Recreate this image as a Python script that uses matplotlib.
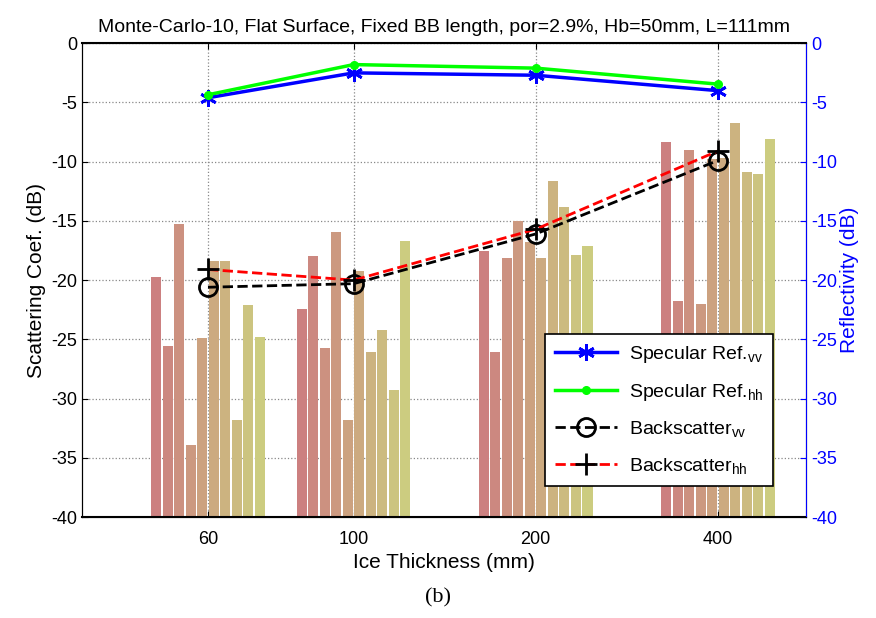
import numpy as np
import matplotlib
matplotlib.use('Agg')
import matplotlib.pyplot as plt
from matplotlib.lines import Line2D

plt.rcParams['font.family'] = ['Liberation Sans', 'DejaVu Sans']
plt.rcParams['mathtext.fontset'] = 'custom'
plt.rcParams['mathtext.rm'] = 'Liberation Sans'
plt.rcParams['mathtext.it'] = 'Liberation Sans'
plt.rcParams['axes.unicode_minus'] = False

# ── DATA
thickness = ['60', '100', '200', '400']
xpos = [1.0, 1.8, 2.8, 3.8]

# 10 Monte-Carlo realisations per thickness (dB)
mc_bars = [
    [-19.7, -25.6, -15.3, -33.9, -24.9, -18.4, -18.4, -31.8, -22.1, -24.8],
    [-22.4, -18.0, -25.7, -15.9, -31.8, -19.2, -26.1, -24.2, -29.3, -16.7],
    [-17.5, -26.1, -18.1, -15.0, -16.8, -18.1, -11.6, -13.8, -17.9, -17.1],
    [-8.3, -21.8, -9.0, -22.0, -9.8, -9.7, -6.7, -10.9, -11.0, -8.1],
]

spec_vv = [-4.6, -2.5, -2.7, -4.0]
spec_hh = [-4.35, -1.8, -2.1, -3.45]
back_vv = [-20.6, -20.3, -16.1, -9.9]
back_hh = [-19.1, -20.0, -15.7, -9.1]

ASTERISK = (6, 2, 0)

# ── FIGURE
fig = plt.figure(figsize=(8.76, 6.18), dpi=100)
ax = fig.add_axes([0.0936, 0.1634, 0.8264, 0.7666])

n_mc = len(mc_bars[0])
step = 0.0632
width = 0.055
c0 = np.array([0.80, 0.50, 0.50])
c1 = np.array([0.80, 0.80, 0.50])
for k in range(n_mc):
    col = c0 + (c1 - c0) * k / (n_mc - 1)
    offs = (k - (n_mc - 1) / 2) * step
    vals = [g[k] for g in mc_bars]
    heights = [v - (-40) for v in vals]
    ax.bar([x + offs for x in xpos], heights, width=width, bottom=-40,
           color=col, edgecolor='none', zorder=1)

l3, = ax.plot(xpos, back_vv, 'k--', marker='o', ms=13, mfc='none', mew=2,
              lw=2, zorder=3)
ax.plot(xpos, back_hh, 'r--', lw=2, zorder=3)
ax.plot(xpos, back_hh, 'k+', ms=16, mew=2, zorder=4)

ax.set_xlim(0.308, 4.284)
ax.set_ylim(-40, 0)
ax.set_yticks(np.arange(-40, 1, 5))
ax.set_xticks(xpos)
ax.set_xticklabels(thickness)
ax.grid(True, linestyle=':', color='#888888', lw=0.9)
ax.set_axisbelow(True)
ax.tick_params(direction='in', top=True, labelsize=13, length=4)
ax.tick_params(axis='x', pad=10)
ax.spines['top'].set_linewidth(1.5)
ax.spines['bottom'].set_linewidth(1.5)
ax.set_xlabel('Ice Thickness (mm)', fontsize=15)
ax.set_ylabel('Scattering Coef. (dB)', fontsize=15)
ax.set_title('Monte-Carlo-10, Flat Surface, Fixed BB length, por=2.9%, Hb=50mm, L=111mm',
             fontsize=14, pad=8)

ax2 = ax.twinx()
ax2.set_ylim(-40, 0)
ax2.set_yticks(np.arange(-40, 1, 5))
l1, = ax2.plot(xpos, spec_vv, 'b-', marker=ASTERISK, ms=12, lw=2.5, mew=2)
l2, = ax2.plot(xpos, spec_hh, '-', color='#00ff00', marker='.', ms=11, lw=2.5)
ax2.tick_params(direction='in', colors='blue', labelsize=13, length=4)
ax2.spines['right'].set_color('blue')
ax2.set_ylabel('Reflectivity (dB)', color='blue', fontsize=15, labelpad=2)

hh_handle = Line2D([], [], color='red', ls='--', lw=2, marker='+', ms=16,
                   mec='black', mew=2)
leg_handles = [l1, l2, l3, hh_handle]
leg_labels = [r'Specular Ref.$_{\mathrm{vv}}$', r'Specular Ref.$_{\mathrm{hh}}$',
              r'Backscatter$_{\mathrm{vv}}$', r'Backscatter$_{\mathrm{hh}}$']
leg = ax2.legend(leg_handles, leg_labels, loc='lower right',
                 bbox_to_anchor=(0.968, 0.046), fontsize=14, fancybox=False,
                 framealpha=1, edgecolor='black', handlelength=3.2,
                 labelspacing=0.85, borderpad=0.5, handletextpad=0.6)
leg.get_frame().set_linewidth(1.2)

fig.text(0.5, 0.025, '(b)', ha='center', fontsize=16, family='Liberation Serif')

fig.savefig('out.png', dpi=100)
